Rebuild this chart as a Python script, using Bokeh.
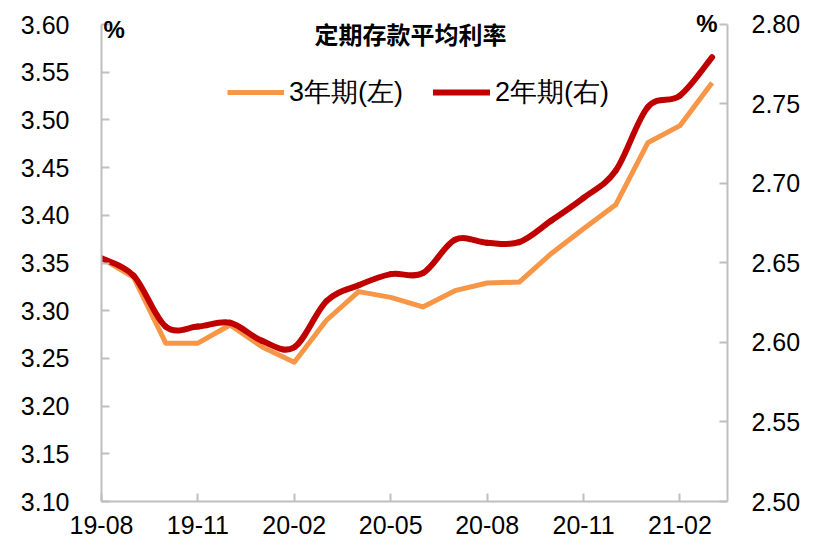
from bokeh.plotting import figure
from bokeh.models import (Range1d, LinearAxis, FixedTicker, Label, Legend, LegendItem,
                          ColumnDataSource, NumeralTickFormatter)
from bokeh.embed import file_html
from bokeh.resources import INLINE

months = ["19-08", "19-09", "19-10", "19-11", "19-12", "20-01", "20-02", "20-03", "20-04", "20-05",
          "20-06", "20-07", "20-08", "20-09", "20-10", "20-11", "20-12", "21-01", "21-02", "21-03"]
rate_3y = [3.355, 3.335, 3.266, 3.266, 3.285, 3.262, 3.246, 3.290, 3.320, 3.314,
           3.304, 3.321, 3.329, 3.330, 3.360, 3.386, 3.411, 3.476, 3.494, 3.539]
rate_2y = [2.653, 2.642, 2.610, 2.610, 2.6124, 2.601, 2.597, 2.626, 2.636, 2.643,
           2.6436, 2.6646, 2.6627, 2.6631, 2.6767, 2.691, 2.708, 2.748, 2.7553, 2.7794]
left_ticks = [3.10, 3.15, 3.20, 3.25, 3.30, 3.35, 3.40, 3.45, 3.50, 3.55, 3.60]
right_ticks = [2.50, 2.55, 2.60, 2.65, 2.70, 2.75, 2.80]
x_tick_idx = [0, 3, 6, 9, 12, 15, 18]

title_text = "定期存款平均利率"
label_3y = "3年期(左)"
label_2y = "2年期(右)"

ORANGE = "#F79646"
RED = "#C00000"
GRID = "#BFBFBF"
FONT = "Liberation Sans"

idx = list(range(len(months)))

# a little head-room above 3.60 / 2.80 so the "%" marks are not clipped
p = figure(width=817, height=559, output_backend="svg", toolbar_location=None,
           x_range=Range1d(0, 19.48), y_range=Range1d(3.10, 3.6147),
           min_border_left=101, min_border_right=90, min_border_top=10, min_border_bottom=58)
p.extra_y_ranges = {"right": Range1d(2.50, 2.8088)}
p.outline_line_color = None
p.xgrid.visible = False
p.ygrid.visible = False
p.background_fill_color = "white"
p.border_fill_color = "white"

# orange straight line (left axis)
src3 = ColumnDataSource(dict(x=idx, y=rate_3y))
r3 = p.line("x", "y", source=src3, line_color=ORANGE, line_width=5, line_join="round")

# dark red smoothed curve (right axis) - Catmull-Rom bezier segments built from the data
n = len(rate_2y)
def pt(i):
    i = max(0, min(n - 1, i))
    return idx[i], rate_2y[i]
x0s, y0s, x1s, y1s, cx0s, cy0s, cx1s, cy1s = [], [], [], [], [], [], [], []
for i in range(n - 1):
    p0, p1, p2, p3 = pt(i - 1), pt(i), pt(i + 1), pt(i + 2)
    x0s.append(p1[0]); y0s.append(p1[1])
    x1s.append(p2[0]); y1s.append(p2[1])
    cx0s.append(p1[0] + (p2[0] - p0[0]) / 6); cy0s.append(p1[1] + (p2[1] - p0[1]) / 6)
    cx1s.append(p2[0] - (p3[0] - p1[0]) / 6); cy1s.append(p2[1] - (p3[1] - p1[1]) / 6)
src2 = ColumnDataSource(dict(x0=x0s, y0=y0s, x1=x1s, y1=y1s, cx0=cx0s, cy0=cy0s, cx1=cx1s, cy1=cy1s))
r2 = p.bezier(x0="x0", y0="y0", x1="x1", y1="y1", cx0="cx0", cy0="cy0", cx1="cx1", cy1="cy1",
              source=src2, line_color=RED, line_width=6, line_cap="round", y_range_name="right")

# axes styling
def style_axis(ax, standoff):
    ax.axis_line_color = GRID
    ax.axis_line_width = 2
    ax.major_tick_line_color = GRID
    ax.major_tick_line_width = 2
    ax.major_tick_in = 8
    ax.major_tick_out = 0
    ax.minor_tick_line_color = None
    ax.major_label_text_font = FONT
    ax.major_label_text_font_size = "25px"
    ax.major_label_text_color = "black"
    ax.major_label_standoff = standoff

xa = p.xaxis[0]
style_axis(xa, 14)
xa.ticker = FixedTicker(ticks=x_tick_idx)
xa.major_label_overrides = {i: months[i] for i in x_tick_idx}

ya = p.yaxis[0]
style_axis(ya, 32)
ya.ticker = FixedTicker(ticks=left_ticks)
ya.formatter = NumeralTickFormatter(format="0.00")
ya.bounds = (left_ticks[0], left_ticks[-1])

ra = LinearAxis(y_range_name="right")
style_axis(ra, 24)
ra.ticker = FixedTicker(ticks=right_ticks)
ra.formatter = NumeralTickFormatter(format="0.00")
ra.bounds = (right_ticks[0], right_ticks[-1])
p.add_layout(ra, "right")

# legend
legend = Legend(items=[LegendItem(label=label_3y, renderers=[r3]),
                       LegendItem(label=label_2y, renderers=[r2])],
                orientation="horizontal", location=(126, 391),
                glyph_width=57, glyph_height=26, label_standoff=5, spacing=30,
                padding=0, margin=0, border_line_alpha=0, background_fill_alpha=0,
                label_text_font=FONT, label_text_font_size="27px", label_text_color="black")
p.add_layout(legend, "center")

# title and unit labels
p.add_layout(Label(x=309, y=468, x_units="screen", y_units="screen", text=title_text,
                   text_align="center", text_baseline="middle", text_font="Noto Sans CJK SC",
                   text_font_style="bold", text_font_size="24px", text_color="black"))
p.add_layout(Label(x=2, y=472, x_units="screen", y_units="screen", text="%",
                   text_align="left", text_baseline="middle", text_font=FONT,
                   text_font_style="bold", text_font_size="24px", text_color="black"))
p.add_layout(Label(x=616, y=478, x_units="screen", y_units="screen", text="%",
                   text_align="right", text_baseline="middle", text_font=FONT,
                   text_font_style="bold", text_font_size="24px", text_color="black"))

open("out.html", "w").write(file_html(p, INLINE))
